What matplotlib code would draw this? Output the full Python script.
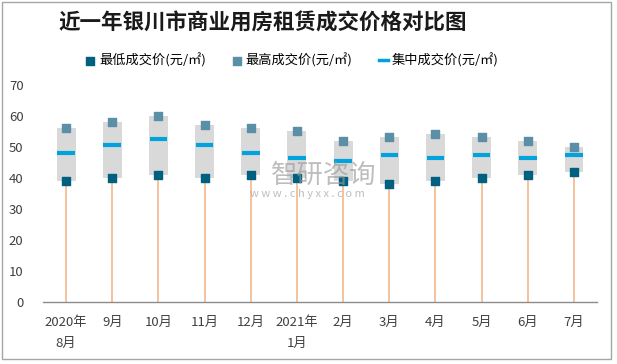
import matplotlib.pyplot as plt
from matplotlib.patches import Rectangle

plt.rcParams['font.family'] = ['Noto Sans CJK SC', 'DejaVu Sans']

# --- data ---
months = ['2020年\n8月', '9月', '10月', '11月', '12月', '2021年\n1月',
          '2月', '3月', '4月', '5月', '6月', '7月']
low_price = [39, 40, 41, 40, 41, 40, 39, 38, 39, 40, 41, 42]
high_price = [56, 58, 60, 57, 56, 55, 52, 53, 54, 53, 52, 50]
mid_price = [48, 50.5, 52.5, 50.5, 48, 46.5, 45.5, 47.5, 46.5, 47.5, 46.5, 47.5]

c_low = '#00607f'
c_high = '#5b8fa8'
c_mid = '#00a3dc'
c_box = '#d9d9d9'
c_drop = '#f4b183'

fig = plt.figure(figsize=(6.17, 3.64), dpi=100)
ax = fig.add_axes([0.0697, 0.1695, 0.898, 0.598])

x = list(range(len(months)))

# drop lines from axis to low price
ax.vlines(x, 0, low_price, color=c_drop, linewidth=1.1, zorder=1)
# grey range box between low and high
ax.bar(x, [h - l for h, l in zip(high_price, low_price)], bottom=low_price,
       width=0.41, color=c_box, zorder=2)
# mid price dash
ax.hlines(mid_price, [i - 0.19 for i in x], [i + 0.19 for i in x],
          color=c_mid, linewidth=3, zorder=3)
ax.scatter(x, low_price, marker='s', s=27, color=c_low, zorder=4, label='最低成交价(元/㎡)')
ax.scatter(x, high_price, marker='s', s=27, color=c_high, zorder=4, label='最高成交价(元/㎡)')
ax.plot([], [], color=c_mid, linewidth=2.5, label='集中成交价(元/㎡)')

ax.set_xlim(-0.5, 11.5)
ax.set_ylim(0, 70)
ax.set_yticks(range(0, 71, 10))
ax.set_xticks(x)
ax.set_xticklabels(months, fontsize=9.5, color='#404040', linespacing=1.75)
ax.tick_params(axis='y', labelsize=9.5, colors='#404040', length=0, pad=14)
ax.tick_params(axis='x', length=0, pad=10)
for s in ['left', 'right', 'top']:
    ax.spines[s].set_visible(False)
ax.spines['bottom'].set_color('#8c8c8c')
ax.spines['bottom'].set_linewidth(1)

fig.text(0.425, 0.937, '近一年银川市商业用房租赁成交价格对比图', ha='center', va='center',
         fontsize=15.5, fontweight='bold', color='#1a1a1a')

ax.legend(loc='center', bbox_to_anchor=(0.45, 1.113), ncol=3, frameon=False,
          fontsize=9.5, handlelength=0.7, handletextpad=0.3, columnspacing=2.0,
          markerscale=1.0)

# watermark (logo text + url), placed in figure coordinates
fig.text(0.525, 0.518, '智研咨询', ha='center', va='center', fontsize=19,
         color='#9a9a9a', alpha=0.65, zorder=10, transform=fig.transFigure)
fig.text(0.498, 0.467, 'w w w . c h y x x . c o m', ha='center', va='center',
         fontsize=8, color='#9a9a9a', alpha=0.65, zorder=10, transform=fig.transFigure)

# outer border
fig.patches.append(Rectangle((0.004, 0.013), 0.986, 0.981, transform=fig.transFigure,
                             fill=False, edgecolor='#a6a6a6', linewidth=1))

fig.savefig('out.png', dpi=100)
